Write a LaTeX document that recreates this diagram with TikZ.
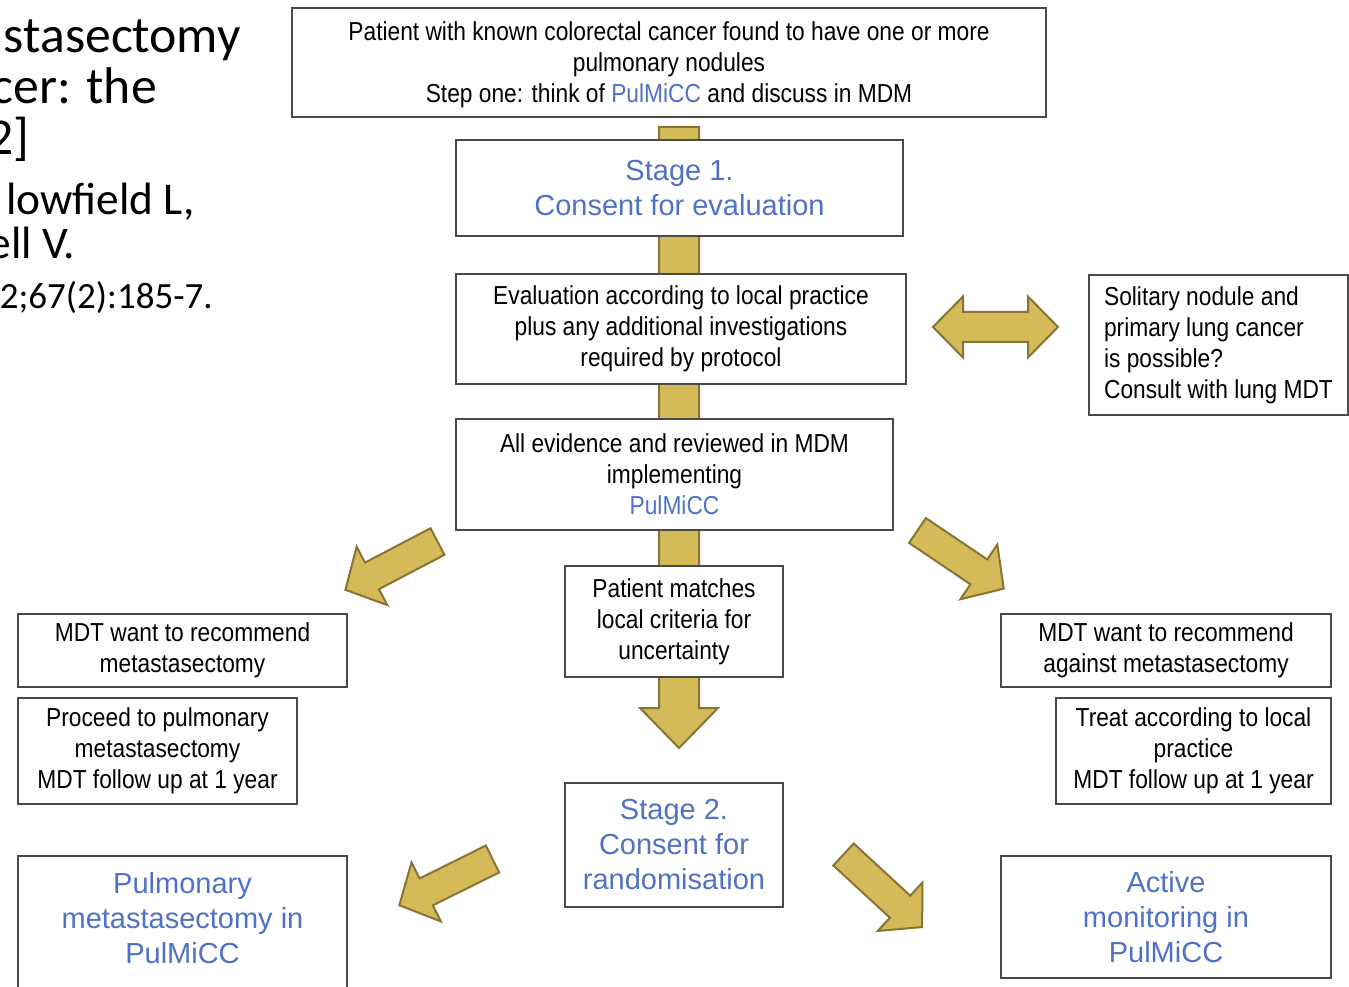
\documentclass[tikz,border=0pt]{standalone}
\usepackage{fontspec}
\newfontfamily\boxfont{Liberation Sans}[FakeStretch=0.875]
\newfontfamily\bigfont{Liberation Sans}
\newfontfamily\titlefont{Carlito}
\definecolor{pblue}{HTML}{4F72C6}
\definecolor{gold}{HTML}{D4BA58}
\definecolor{goldline}{HTML}{8A7434}
\definecolor{boxline}{HTML}{4A4A4A}
\newcommand{\uu}{0.75pt}
\tikzset{
  box/.style={draw=boxline, line width=2.2pt, fill=white, inner sep=0pt, align=center,
    font=\boxfont\fontsize{19.5pt}{23.25pt}\selectfont},
  bluebox/.style={box, text=pblue, font=\bigfont\fontsize{21.75pt}{26.25pt}\selectfont},
  bluetxt/.style={inner sep=0pt, align=center, text=pblue, font=\bigfont\fontsize{21.75pt}{26.25pt}\selectfont},
  goldarrow/.style={fill=gold, draw=goldline, line width=1.5pt, line join=miter},
  titleA/.style={anchor=base east, inner sep=0pt, font=\titlefont\fontsize{38.8pt}{40pt}\selectfont},
  titleB/.style={anchor=base east, inner sep=0pt, font=\titlefont\fontsize{34pt}{36pt}\selectfont},
  titleC/.style={anchor=base east, inner sep=0pt, font=\titlefont\fontsize{27.75pt}{30pt}\selectfont}
}
\newcommand{\diagarrow}[5]{%
  \begin{scope}[shift={(#2,#3)}, rotate=#4]
    \draw[goldarrow] (0,-15) -- ({#5-30},-15) -- ({#5-30},-33) -- (#5,0) -- ({#5-30},33) -- ({#5-30},15) -- (0,15) -- cycle;
    \coordinate (#1) at (#5,0);
  \end{scope}}
\begin{document}
\begin{tikzpicture}[x=0.75pt, y=-0.75pt]
\useasboundingbox (0,0) rectangle (1349,987);
\fill[white] (0,0) rectangle (1349,987);

% title fragments (cut at the left edge)
\node[titleA] (t1) at (241,53) {stasectomy};
\node[titleA] (t2) at (157,104) {cer: the};
\node[titleA] (t3) at (30,155) {2]};
\node[titleB] (t4) at (195,215) {lowfield L,};
\node[titleB] (t5) at (75,259) {ell V.};
\node[titleC] (t6) at (213,309) {2;67(2):185-7.};

% central vertical bar with arrow head
\draw[goldarrow] (659,127) -- (699,127) -- (699,708) -- (718,708) -- (679,748) -- (640,708) -- (659,708) -- cycle;
\coordinate (bartip) at (679,748);

% double arrow
\draw[goldarrow] (933,327) -- (963,296.5) -- (963,312) -- (1028,312) -- (1028,296.5) -- (1058,327)
  -- (1028,357.5) -- (1028,342) -- (963,342) -- (963,357.5) -- cycle;

% diagonal arrows
\diagarrow{aUL}{437.5}{541.5}{207.7}{104}
\diagarrow{aUR}{917.5}{530.5}{-34}{104}
\diagarrow{aLL}{492.5}{859}{206.4}{104}
\diagarrow{aLR}{843.5}{854.5}{-42.7}{107}

% boxes
\node[box, minimum width=754*\uu, minimum height=109*\uu] (top) at (669,62.5) {};
\node[inner sep=0pt, align=center, font=\boxfont\fontsize{19.5pt}{23.25pt}\selectfont] (topt) at (669,65)
  {Patient with known colorectal cancer found to have one or more\\ pulmonary nodules\\
   Step one: think of \textcolor{pblue}{PulMiCC} and discuss in MDM};
\node[bluebox, minimum width=447*\uu, minimum height=96*\uu] (stage1) at (679.5,188)
  {Stage 1.\\ Consent for evaluation};
\node[box, minimum width=450*\uu, minimum height=110*\uu] (eval) at (681,329)
  {Evaluation according to local practice\\ plus any additional investigations\\ required by protocol};
\node[box, align=left, minimum width=259*\uu, minimum height=140*\uu] (solitary) at (1218.5,345)
  {Solitary nodule and\\ primary lung cancer\\ is possible?\\ Consult with lung MDT};
\node[box, minimum width=437*\uu, minimum height=111*\uu] (allev) at (674.5,474.5)
  {All evidence and reviewed in MDM\\ implementing\\ \textcolor{pblue}{PulMiCC}};
\node[box, minimum width=218*\uu, minimum height=111*\uu] (match) at (674,621.5)
  {Patient matches\\ local criteria for\\ uncertainty};
\node[box, minimum width=329*\uu, minimum height=73*\uu] (mdtL) at (182.5,650.5)
  {MDT want to recommend\\ metastasectomy};
\node[box, minimum width=279*\uu, minimum height=106*\uu] (procL) at (157.5,751)
  {Proceed to pulmonary\\ metastasectomy\\ MDT follow up at 1 year};
\node[box, minimum width=329*\uu, minimum height=140*\uu] (pulmL) at (182.5,926) {};
\node[bluetxt] (pulmLt) at (182.5,918) {Pulmonary\\ metastasectomy in\\ PulMiCC};
\node[box, minimum width=330*\uu, minimum height=73*\uu] (mdtR) at (1166,650.5)
  {MDT want to recommend\\ against metastasectomy};
\node[box, minimum width=275*\uu, minimum height=106*\uu] (treatR) at (1193.5,751)
  {Treat according to local\\ practice\\ MDT follow up at 1 year};
\node[bluebox, minimum width=330*\uu, minimum height=122*\uu] (activeR) at (1166,917)
  {Active\\ monitoring in\\ PulMiCC};
\node[bluebox, minimum width=218*\uu, minimum height=124*\uu] (stage2) at (674,845)
  {Stage 2.\\ Consent for\\ randomisation};
\end{tikzpicture}
\end{document}
